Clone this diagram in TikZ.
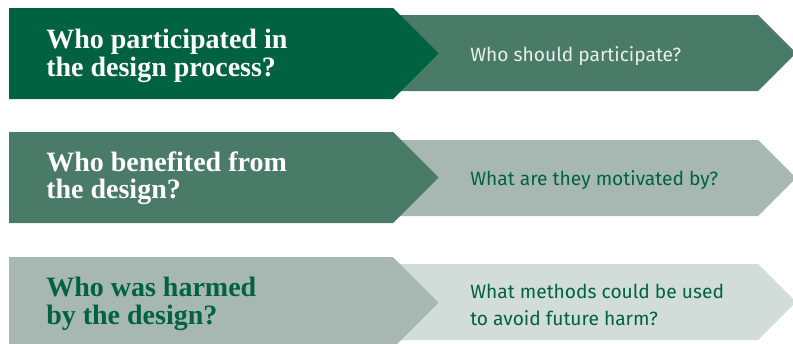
\documentclass[tikz,border=0pt]{standalone}
\usepackage{fontspec}
\usepackage{tikz}
\newfontfamily\askfont{Liberation Serif}
\newfontfamily\hintfont{Fira Sans}
\definecolor{deepgreen}{RGB}{0,98,65}
\definecolor{midgreen}{RGB}{74,122,104}
\definecolor{palegreen}{RGB}{167,183,177}
\definecolor{mistgreen}{RGB}{210,220,216}
\definecolor{hintwhite}{RGB}{232,240,236}

\tikzset{
  ask/.style={anchor=west, inner sep=0pt, align=left, font=\askfont\bfseries\fontsize{21}{20.5}\selectfont},
  hint/.style={anchor=west, inner sep=0pt, align=left, font=\hintfont\fontsize{14.4}{20}\selectfont}
}

\begin{document}
\begin{tikzpicture}[x=0.75pt,y=0.75pt,yscale=-1,xscale=1]
    \useasboundingbox (0,0) rectangle (793,343);

    %Shape: back chevron, row 1
    \fill [midgreen] (390,15) -- (758,15) -- (796,53) -- (758,91) -- (390,91) -- cycle ;
    %Shape: front chevron, row 1
    \fill [deepgreen] (9,8) -- (393,8) -- (438.5,53.5) -- (393,99) -- (9,99) -- cycle ;

    %Shape: back chevron, row 2
    \fill [palegreen] (390,140) -- (758,140) -- (796,178) -- (758,216) -- (390,216) -- cycle ;
    %Shape: front chevron, row 2
    \fill [midgreen] (9,132) -- (393,132) -- (438.5,177.5) -- (393,223) -- (9,223) -- cycle ;

    %Shape: back chevron, row 3
    \fill [mistgreen] (390,264) -- (758,264) -- (796,302) -- (758,340) -- (390,340) -- cycle ;
    %Shape: front chevron, row 3
    \fill [palegreen] (9,257) -- (393,257) -- (438.5,302.5) -- (393,348) -- (9,348) -- cycle ;

    % Text Node
    \node (ask1) [ask, text=white] at (46,56) {Who participated in\\the design process?};
    % Text Node
    \node (hint1) [hint, text=hintwhite] at (470,56) {Who should participate?};
    % Text Node
    \node (ask2) [ask, text=white] at (46,178) {Who benefited from\\the design?};
    % Text Node
    \node (hint2) [hint, text=deepgreen] at (470,180) {What are they motivated by?};
    % Text Node
    \node (ask3) [ask, text=deepgreen] at (46,304) {Who was harmed\\by the design?};
    % Text Node
    \node (hint3) [hint, text=deepgreen] at (470,305) {What methods could be used\\to avoid future harm?};

\end{tikzpicture}
\end{document}
